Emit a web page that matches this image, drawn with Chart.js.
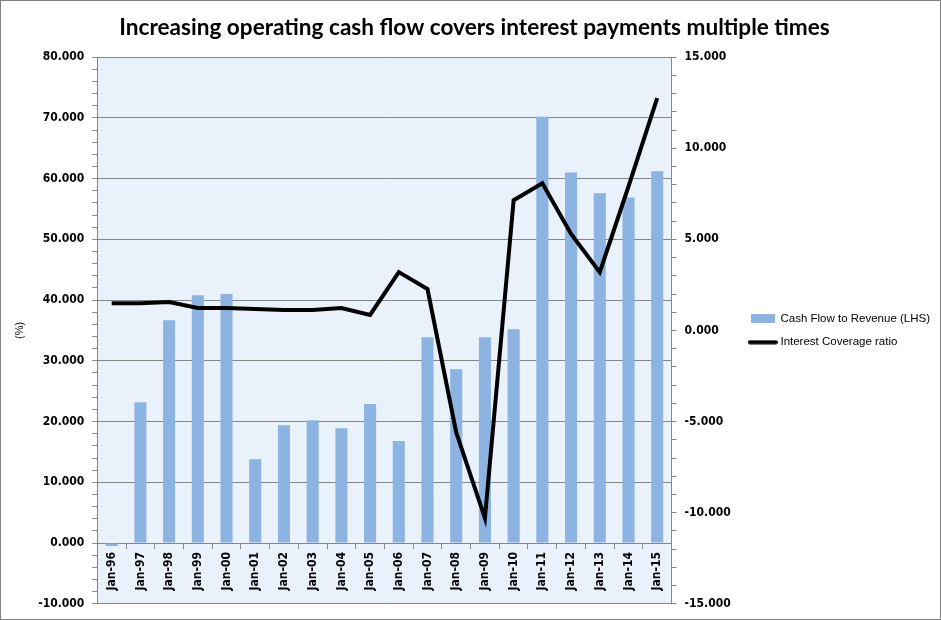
<!DOCTYPE html>
<html>
<head>
<meta charset="utf-8">
<script src="https://cdn.jsdelivr.net/npm/chart.js@4.4.0/dist/chart.umd.min.js"></script>
<style>
  html, body { margin: 0; padding: 0; background: #fff; }
  #wrap { width: 941px; height: 620px; box-sizing: border-box; border: 1px solid #808080; position: relative; }
  #chart { display: block; }
</style>
</head>
<body>
<div id="wrap"><canvas id="chart"></canvas></div>
<script>
// chart data
const labels = ["Jan-96", "Jan-97", "Jan-98", "Jan-99", "Jan-00", "Jan-01", "Jan-02", "Jan-03", "Jan-04", "Jan-05",
  "Jan-06", "Jan-07", "Jan-08", "Jan-09", "Jan-10", "Jan-11", "Jan-12", "Jan-13", "Jan-14", "Jan-15"];
const cashFlowToRevenue = [-0.5, 23.2, 36.7, 40.8, 41.0, 13.8, 19.4, 20.2, 18.9, 22.9,
  16.8, 33.9, 28.6, 33.9, 35.2, 70.2, 61.0, 57.6, 56.9, 61.2];
const interestCoverage = [1.5, 1.5, 1.56, 1.23, 1.23, 1.18, 1.12, 1.12, 1.23, 0.85,
  3.2, 2.27, -5.6, -10.3, 7.15, 8.08, 5.3, 3.2, 7.9, 12.75];

const titleText = "Increasing operating cash flow covers interest payments multiple times";
const barColor = "#8db3e2";
const gridGray = "#868686";
const tickFont = { family: "DejaVu Sans Condensed", size: 12, weight: "bold" };

// legend swatches
function swatch(w, h, draw) {
  const c = document.createElement("canvas");
  c.width = w; c.height = h;
  draw(c.getContext("2d"));
  return c;
}
const barSwatch = swatch(24, 9, (g) => { g.fillStyle = barColor; g.fillRect(0, 0, 24, 9); });
const lineSwatch = swatch(30, 5, (g) => {
  g.strokeStyle = "#000"; g.lineWidth = 4; g.lineCap = "round";
  g.beginPath(); g.moveTo(2, 2.5); g.lineTo(28, 2.5); g.stroke();
});

// plot background
const plotBg = {
  id: "plotBg",
  beforeDraw(chart) {
    const a = chart.chartArea, ctx = chart.ctx;
    ctx.save();
    ctx.fillStyle = "#e9f1fb";
    ctx.fillRect(a.left, a.top, a.right - a.left, a.bottom - a.top);
    ctx.restore();
  },
};

// the layout caps side boxes at a third of half the width; let the legend be wider
const wideLegend = {
  id: "wideLegend",
  beforeUpdate(chart) {
    const lg = chart.legend;
    if (!lg || lg._wide) return;
    const fit = lg.fit.bind(lg);
    lg.fit = function () { this.maxWidth = 204; fit(); };
    lg._wide = true;
  },
};

const isMul = (v, m) => Math.abs(v / m - Math.round(v / m)) < 1e-6;

new Chart(document.getElementById("chart"), {
  data: {
    labels,
    datasets: [
      {
        type: "bar",
        label: "Cash Flow to Revenue (LHS)",
        data: cashFlowToRevenue,
        backgroundColor: barColor,
        yAxisID: "y",
        order: 1,
        barPercentage: 0.42,
        categoryPercentage: 1,
      },
      {
        type: "line",
        label: "Interest Coverage ratio",
        data: interestCoverage,
        borderColor: "#000",
        borderWidth: 4,
        pointRadius: 0,
        tension: 0,
        yAxisID: "y1",
        order: 0,
      },
    ],
  },
  plugins: [plotBg, wideLegend],
  options: {
    responsive: true,
    maintainAspectRatio: false,
    animation: false,
    layout: { padding: { left: 8, right: 0, top: 0, bottom: 15 } },
    plugins: {
      title: {
        display: true,
        text: titleText,
        color: "#000",
        font: { family: "Lato", size: 22.6, weight: "bold" },
        padding: { top: 13, bottom: 16 },
      },
      legend: {
        position: "right",
        fullSize: false,
        labels: {
          usePointStyle: true,
          pointStyleWidth: 24,
          boxHeight: 10,
          padding: 12,
          color: "#000",
          font: { family: "Liberation Sans", size: 11.5 },
          sort: (a, b) => a.datasetIndex - b.datasetIndex,
          generateLabels(chart) {
            const items = Chart.defaults.plugins.legend.labels.generateLabels(chart);
            items.forEach((it) => { it.pointStyle = it.datasetIndex === 0 ? barSwatch : lineSwatch; });
            return items;
          },
        },
      },
      tooltip: { enabled: false },
    },
    scales: {
      x: {
        position: { y: 0 },
        offset: true,
        grid: { display: true, drawOnChartArea: false, offset: true, color: gridGray, tickLength: 5 },
        border: { color: gridGray },
        ticks: { color: "#000", font: tickFont, minRotation: 90, maxRotation: 90, padding: 4, autoSkip: false },
      },
      y: {
        position: "left",
        min: -10,
        max: 80,
        afterBuildTicks(scale) {
          scale.ticks = [];
          for (let v = -10; v <= 80; v += 2) scale.ticks.push({ value: v });
        },
        ticks: {
          color: "#000",
          font: tickFont,
          padding: 8,
          autoSkip: false,
          callback: (v) => (isMul(v, 10) ? v.toFixed(3) : ""),
        },
        grid: {
          color: (c) => (isMul(c.tick.value, 10) ? gridGray : "rgba(0,0,0,0)"),
          tickColor: gridGray,
          tickLength: 5,
        },
        border: { color: gridGray },
        title: { display: true, text: "(%)", color: "#000", font: { family: "Liberation Sans", size: 11 }, padding: 4 },
      },
      y1: {
        position: "right",
        min: -15,
        max: 15,
        afterBuildTicks(scale) {
          scale.ticks = [];
          for (let v = -15; v <= 15; v += 1) scale.ticks.push({ value: v });
        },
        ticks: {
          color: "#000",
          font: tickFont,
          padding: 8,
          autoSkip: false,
          callback: (v) => (isMul(v, 5) ? v.toFixed(3) : ""),
        },
        grid: { drawOnChartArea: false, color: gridGray, tickLength: 5 },
        border: { color: gridGray },
      },
    },
  },
});
</script>
</body>
</html>
